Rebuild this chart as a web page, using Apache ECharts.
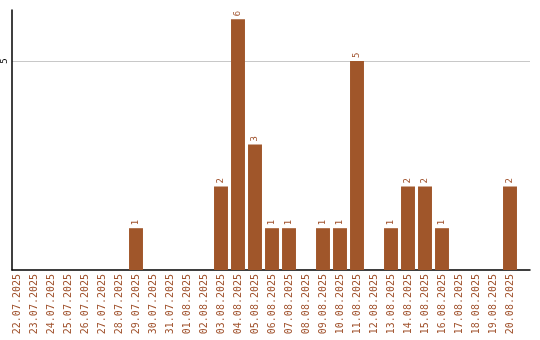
<!DOCTYPE html>
<html><head><meta charset="utf-8">
<script src="https://cdn.jsdelivr.net/npm/echarts@6/dist/echarts.min.js"></script>
<style>html,body{margin:0;padding:0;background:#fff}#c{width:540px;height:340px}</style>
</head><body><div id="c"></div>
<script>
const categories = ["22.07.2025","23.07.2025","24.07.2025","25.07.2025","26.07.2025","27.07.2025","28.07.2025","29.07.2025","30.07.2025","31.07.2025","01.08.2025","02.08.2025","03.08.2025","04.08.2025","05.08.2025","06.08.2025","07.08.2025","08.08.2025","09.08.2025","10.08.2025","11.08.2025","12.08.2025","13.08.2025","14.08.2025","15.08.2025","16.08.2025","17.08.2025","18.08.2025","19.08.2025","20.08.2025"];
const values = [0,0,0,0,0,0,0,1,0,0,0,0,2,6,3,1,1,0,1,1,5,0,1,2,2,1,0,0,0,2];
const yTicks = [5];
const yMax = 6.22;
const chart = echarts.init(document.getElementById('c'));
chart.setOption({
  animation:false,
  grid:[
    {left:8.5,width:510,top:10,bottom:70,containLabel:false},
    {left:10.5,right:10,top:10,bottom:70,containLabel:false}
  ],
  xAxis:[
    {type:'category',gridIndex:0,data:categories,
      axisLine:{show:false},axisTick:{show:false},
      axisLabel:{rotate:90,interval:0,color:'#a0522d',fontFamily:'DejaVu Sans Mono',fontSize:10,margin:4}},
    {type:'value',gridIndex:1,min:0,max:1,
      axisLine:{show:true,onZero:false,lineStyle:{color:'#000',width:1.5}},axisTick:{show:false},
      axisLabel:{show:false},splitLine:{show:false}}
  ],
  yAxis:[
    {type:'value',gridIndex:0,min:0,max:yMax,show:false,splitLine:{show:false}},
    {type:'value',gridIndex:1,min:0,max:yMax,interval:5,
      axisLine:{show:true,onZero:false,lineStyle:{color:'#000',width:1.5}},axisTick:{show:false},
      splitLine:{show:true,showMinLine:false,showMaxLine:false,lineStyle:{color:'#c8c8c8'}},
      axisLabel:{rotate:90,color:'#000',fontFamily:'DejaVu Sans Mono',fontSize:9,margin:3,
        formatter:v=>yTicks.includes(v)?String(v):''}}
  ],
  series:[{type:'bar',xAxisIndex:0,yAxisIndex:0,z:1,
    data:values.map(v=>v===0?{value:0,label:{show:false}}:v),barCategoryGap:'18%',
    itemStyle:{color:'#a0562a'},
    label:{show:true,position:'top',rotate:90,align:'left',verticalAlign:'middle',distance:3,color:'#a0522d',fontFamily:'DejaVu Sans Mono',fontSize:9}}]
});
</script></body></html>
